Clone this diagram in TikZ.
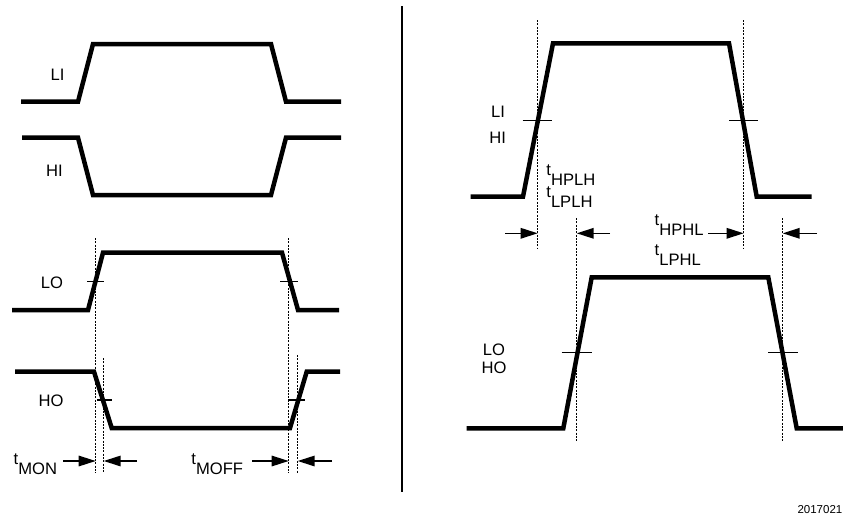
\documentclass[tikz,border=0pt]{standalone}
\usepackage{fontspec}
\setmainfont{Liberation Sans}
\usetikzlibrary{arrows.meta}
\newcommand{\tsubx}[1]{t\lower10pt\hbox{#1}}
\begin{document}
\begin{tikzpicture}[x=1pt,y=-1pt,
  sig/.style={line width=4.5pt,line join=miter},
  tick/.style={line width=1.3pt},
  guide/.style={line width=1.2pt,dash pattern=on 2pt off 1.3pt},
  dimarrow/.style={line width=1.5pt,-{Triangle[length=17pt,width=10.5pt]}},
  lbl/.style={inner sep=0pt,anchor=base,font=\fontsize{16.6}{19}\selectfont},
  tlbl/.style={inner sep=0pt,anchor=base west,font=\fontsize{16.6}{19}\selectfont},
  figcaption/.style={inner sep=0pt,anchor=base east,font=\fontsize{11.5}{13}\selectfont}]
\useasboundingbox (0,0) rectangle (843,517);
% ---------- left half ----------
\draw[sig] (21,101.7) -- (78,101.7) -- (93,44) -- (271,44) -- (286,101.7) -- (341,101.7);
\draw[sig] (22,137.7) -- (78,137.7) -- (93,195) -- (271,195) -- (286,137.7) -- (341,137.7);
\draw[sig] (12,310) -- (88,310) -- (103,252.7) -- (282,252.7) -- (298,310) -- (339,310);
\draw[sig] (15,371.7) -- (94,371.7) -- (111.7,428) -- (290,428) -- (306.7,371.7) -- (340,371.7);
\draw[tick] (87,281.7) -- (104,281.7);
\draw[tick] (280,281.7) -- (298,281.7);
\draw[tick] (97,400) -- (112,400);
\draw[tick] (288,400) -- (305,400);
\draw[guide] (95.7,238) -- (95.7,473);
\draw[guide] (103.7,358) -- (103.7,473);
\draw[guide] (288.7,238) -- (288.7,473);
\draw[guide] (297.7,355) -- (297.7,473);
\node[lbl] (li1) at (57.5,80.7) {LI};
\node[lbl] (hi1) at (54.5,176.7) {HI};
\node[lbl] (lo1) at (52,288.3) {LO};
\node[lbl] (ho1) at (51,406.7) {HO};
\node[tlbl] (tmon) at (13.5,464) {\tsubx{MON}};
\node[tlbl] (tmoff) at (191.2,464) {\tsubx{MOFF}};
\coordinate (a1s) at (63,461);   \coordinate (a1e) at (95.7,461);
\coordinate (a2s) at (137,461);  \coordinate (a2e) at (103.7,461);
\coordinate (a3s) at (252,461);  \coordinate (a3e) at (288.7,461);
\coordinate (a4s) at (332,461);  \coordinate (a4e) at (297.7,461);
\draw[dimarrow] (a1s) -- (a1e);
\draw[dimarrow] (a2s) -- (a2e);
\draw[dimarrow] (a3s) -- (a3e);
\draw[dimarrow] (a4s) -- (a4e);
% ---------- divider ----------
\coordinate (dtop) at (401.7,6);
\coordinate (dbot) at (401.7,491.7);
\draw[line width=2.2pt] (dtop) -- (dbot);
% ---------- right half ----------
\draw[sig] (470.7,196.7) -- (523,196.7) -- (553,43.3) -- (729,43.3) -- (756.7,196.7) -- (811.7,196.7);
\draw[sig] (466.7,428.3) -- (563.3,428.3) -- (591.7,277.3) -- (768.3,277.3) -- (796.7,428.3) -- (843,428.3);
\draw[tick] (522.7,120.7) -- (551.7,120.7);
\draw[tick] (729,120.7) -- (758,120.7);
\draw[tick] (561.7,352.7) -- (591.7,352.7);
\draw[tick] (768.3,352.7) -- (798.3,352.7);
\draw[guide] (537.7,20) -- (537.7,248);
\draw[guide] (743.7,20) -- (743.7,248);
\draw[guide] (576.7,218) -- (576.7,441.7);
\draw[guide] (782.7,218) -- (782.7,441.7);
\node[lbl] (li2) at (498,117.3) {LI};
\node[lbl] (hi2) at (497.7,143.3) {HI};
\node[lbl] (lo2) at (494,355) {LO};
\node[lbl] (ho2) at (494,373.3) {HO};
\node[tlbl] (thplh) at (546.2,175) {\tsubx{HPLH}};
\node[tlbl] (tlplh) at (546.2,197.5) {\tsubx{LPLH}};
\node[tlbl] (thphl) at (654.5,225) {\tsubx{HPHL}};
\node[tlbl] (tlphl) at (654.5,255) {\tsubx{LPHL}};
\coordinate (b1s) at (505,233.3);  \coordinate (b1e) at (537.7,233.3);
\coordinate (b2s) at (610,233.3);  \coordinate (b2e) at (576.7,233.3);
\coordinate (b3s) at (708,233.3);  \coordinate (b3e) at (743.7,233.3);
\coordinate (b4s) at (817,233.3);  \coordinate (b4e) at (782.7,233.3);
\draw[dimarrow] (b1s) -- (b1e);
\draw[dimarrow] (b2s) -- (b2e);
\draw[dimarrow] (b3s) -- (b3e);
\draw[dimarrow] (b4s) -- (b4e);
\node[figcaption] (fig) at (842.5,513.5) {2017021};
\end{tikzpicture}
\end{document}
